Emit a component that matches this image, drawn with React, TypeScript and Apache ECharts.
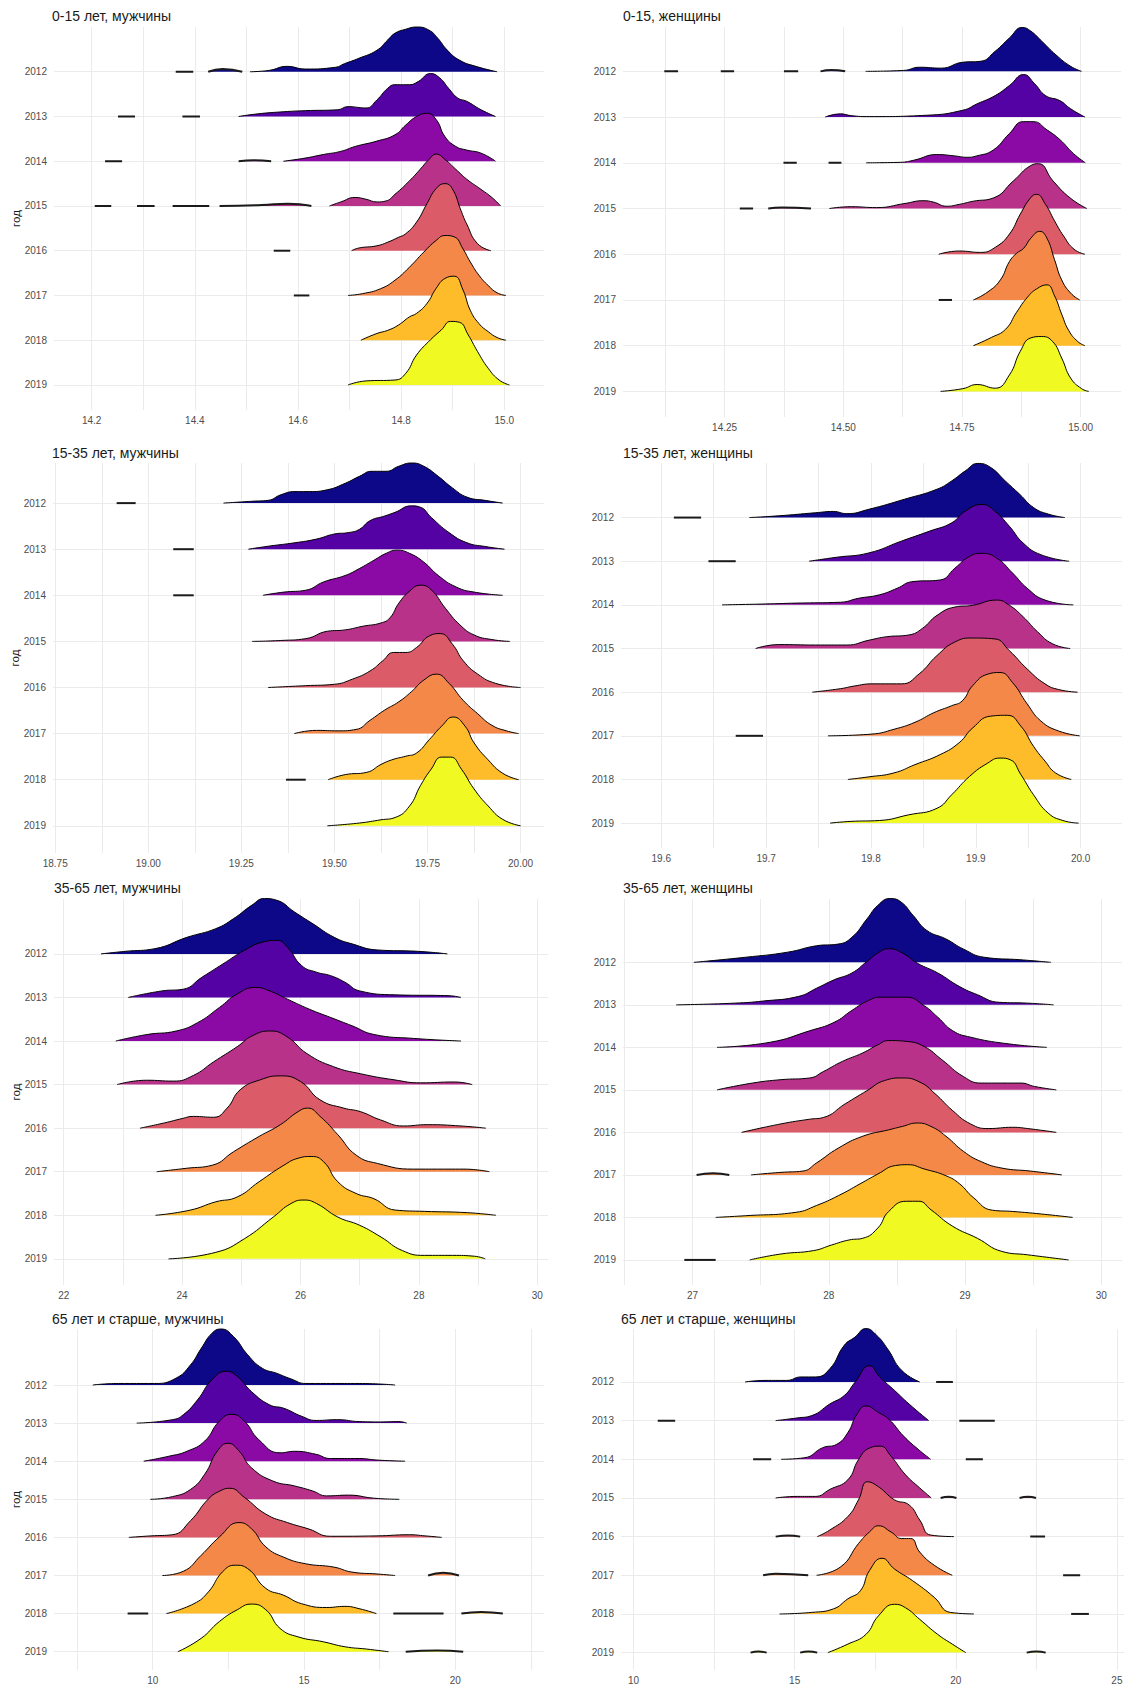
import React, { useEffect, useRef } from "react";
import * as echarts from "echarts";

type Pt = [number, number];
type Seg = Pt[];
type Ridge = Seg[];

const years = ["2012", "2013", "2014", "2015", "2016", "2017", "2018", "2019"];
const plasma = ["#0D0887", "#5402A3", "#8B0AA5", "#B93289", "#DB5C68", "#F48849", "#FEBC2A", "#F0F921"];
const titles = [
  "0-15 лет, мужчины",
  "0-15, женщины",
  "15-35 лет, мужчины",
  "15-35 лет, женщины",
  "35-65 лет, мужчины",
  "35-65 лет, женщины",
  "65 лет и старше, мужчины",
  "65 лет и старше, женщины",
];

// tick labels (major) and minor grid positions per panel
const majorTicks = [
  [14.2, 14.4, 14.6, 14.8, 15.0],
  [14.25, 14.5, 14.75, 15.0],
  [18.75, 19.0, 19.25, 19.5, 19.75, 20.0],
  [19.6, 19.7, 19.8, 19.9, 20.0],
  [22, 24, 26, 28, 30],
  [27, 28, 29, 30],
  [10, 15, 20],
  [10, 15, 20, 25],
];
const minorTicks = [
  [14.3, 14.5, 14.7, 14.9],
  [14.125, 14.375, 14.625, 14.875],
  [18.875, 19.125, 19.375, 19.625, 19.875],
  [19.65, 19.75, 19.85, 19.95],
  [23, 25, 27, 29],
  [26.5, 27.5, 28.5, 29.5],
  [7.5, 12.5, 17.5, 22.5],
  [12.5, 17.5, 22.5],
];
const tickDecimals = [1, 2, 2, 1, 0, 0, 0, 0];
const xRanges: [number, number][] = [
  [14.127, 15.077],
  [14.036, 15.085],
  [18.744, 20.063],
  [19.5616, 20.0394],
  [21.836, 30.18],
  [26.49, 30.152],
  [6.737, 22.93],
  [9.61, 25.22],
];

// ridge densities: [x, height in row units], segments separated
const m015: Ridge[] = [
  [[[14.363, 0], [14.397, 0]], [[14.426, 0], [14.454, 0.06], [14.492, 0]],
   [[14.507, 0], [14.544, 0.03], [14.579, 0.12], [14.614, 0.06], [14.673, 0.1], [14.69, 0.18], [14.718, 0.3], [14.753, 0.48], [14.774, 0.71], [14.788, 0.86], [14.809, 0.95], [14.83, 1.0], [14.854, 0.93], [14.871, 0.75], [14.889, 0.49], [14.913, 0.26], [14.948, 0.11], [14.986, 0]]],
  [[[14.251, 0], [14.284, 0]], [[14.376, 0], [14.41, 0]],
   [[14.485, 0], [14.523, 0.06], [14.565, 0.1], [14.614, 0.13], [14.677, 0.15], [14.697, 0.22], [14.732, 0.19], [14.753, 0.37], [14.774, 0.63], [14.788, 0.71], [14.816, 0.71], [14.833, 0.78], [14.857, 0.96], [14.875, 0.86], [14.892, 0.63], [14.91, 0.41], [14.927, 0.34], [14.955, 0.15], [14.983, 0]]],
  [[[14.226, 0], [14.259, 0]], [[14.485, 0], [14.515, 0.02], [14.548, 0]],
   [[14.572, 0], [14.614, 0.07], [14.649, 0.15], [14.683, 0.22], [14.711, 0.33], [14.753, 0.45], [14.788, 0.59], [14.809, 0.81], [14.83, 1.0], [14.85, 1.07], [14.868, 0.93], [14.885, 0.55], [14.906, 0.33], [14.927, 0.25], [14.955, 0.18], [14.983, 0]]],
  [[[14.206, 0], [14.238, 0]], [[14.288, 0], [14.322, 0]], [[14.357, 0], [14.428, 0]],
   [[14.448, 0], [14.53, 0.02], [14.58, 0.05], [14.61, 0.03], [14.626, 0]],
   [[14.661, 0], [14.683, 0.09], [14.711, 0.19], [14.732, 0.15], [14.753, 0.09], [14.77, 0.11], [14.788, 0.26], [14.816, 0.56], [14.837, 0.82], [14.854, 1.04], [14.868, 1.16], [14.885, 1.04], [14.906, 0.82], [14.927, 0.6], [14.955, 0.37], [14.976, 0.19], [14.993, 0]]],
  [[[14.553, 0], [14.585, 0]],
   [[14.704, 0], [14.718, 0.06], [14.753, 0.11], [14.774, 0.19], [14.795, 0.3], [14.809, 0.38], [14.83, 0.64], [14.85, 1.05], [14.868, 1.39], [14.885, 1.5], [14.899, 1.39], [14.916, 0.9], [14.927, 0.6], [14.948, 0.16], [14.974, 0]]],
  [[[14.592, 0], [14.622, 0]],
   [[14.697, 0], [14.725, 0.04], [14.76, 0.15], [14.788, 0.34], [14.816, 0.63], [14.844, 0.97], [14.868, 1.23], [14.885, 1.34], [14.903, 1.31], [14.92, 1.04], [14.934, 0.75], [14.951, 0.45], [14.969, 0.22], [14.986, 0.06], [15.003, 0]]],
  [[[14.722, 0], [14.753, 0.15], [14.774, 0.22], [14.795, 0.34], [14.816, 0.52], [14.83, 0.6], [14.85, 0.82], [14.868, 1.16], [14.885, 1.38], [14.903, 1.43], [14.92, 1.12], [14.934, 0.67], [14.951, 0.37], [14.969, 0.19], [14.986, 0.06], [15.003, 0]]],
  [[[14.697, 0], [14.732, 0.09], [14.788, 0.11], [14.809, 0.26], [14.83, 0.67], [14.857, 1.01], [14.878, 1.23], [14.896, 1.42], [14.913, 1.4], [14.93, 1.12], [14.948, 0.75], [14.969, 0.37], [14.99, 0.11], [15.01, 0]]],
];

const f015: Ridge[] = [
  [[[14.123, 0], [14.152, 0]], [[14.242, 0], [14.27, 0]], [[14.375, 0], [14.405, 0]], [[14.452, 0], [14.475, 0.03], [14.504, 0]],
   [[14.547, 0], [14.627, 0.02], [14.661, 0.09], [14.706, 0.07], [14.752, 0.2], [14.789, 0.22], [14.82, 0.44], [14.85, 0.73], [14.877, 0.96], [14.895, 0.88], [14.918, 0.66], [14.948, 0.36], [14.979, 0.11], [15.002, 0]]],
  [[[14.462, 0], [14.494, 0.07], [14.517, 0.03], [14.555, 0.01], [14.676, 0.04], [14.752, 0.15], [14.782, 0.29], [14.82, 0.47], [14.85, 0.69], [14.88, 0.93], [14.903, 0.73], [14.926, 0.47], [14.956, 0.36], [14.979, 0.18], [15.009, 0]]],
  [[[14.374, 0], [14.402, 0]], [[14.469, 0], [14.496, 0]],
   [[14.548, 0], [14.62, 0.01], [14.65, 0.06], [14.697, 0.18], [14.735, 0.15], [14.76, 0.12], [14.781, 0.15], [14.816, 0.28], [14.85, 0.64], [14.879, 0.9], [14.9, 0.9], [14.929, 0.72], [14.957, 0.5], [14.985, 0.2], [15.01, 0]]],
  [[[14.282, 0], [14.31, 0]], [[14.342, 0], [14.37, 0.02], [14.432, 0]],
   [[14.471, 0], [14.517, 0.04], [14.57, 0.02], [14.63, 0.11], [14.668, 0.17], [14.69, 0.14], [14.718, 0.05], [14.744, 0.09], [14.774, 0.16], [14.816, 0.23], [14.858, 0.6], [14.895, 0.94], [14.911, 0.98], [14.942, 0.6], [14.978, 0.23], [15.013, 0]]],
  [[[14.701, 0], [14.744, 0.07], [14.789, 0.04], [14.82, 0.15], [14.85, 0.44], [14.873, 0.88], [14.895, 1.24], [14.907, 1.31], [14.926, 1.09], [14.945, 0.73], [14.964, 0.4], [14.986, 0.11], [15.009, 0]]],
  [[[14.701, 0], [14.729, 0]],
   [[14.774, 0], [14.805, 0.18], [14.831, 0.44], [14.85, 0.84], [14.865, 1.02], [14.88, 1.13], [14.895, 1.35], [14.914, 1.5], [14.929, 1.35], [14.945, 0.88], [14.96, 0.44], [14.979, 0.15], [14.998, 0]]],
  [[[14.774, 0], [14.812, 0.18], [14.842, 0.36], [14.865, 0.73], [14.888, 1.06], [14.907, 1.24], [14.929, 1.33], [14.945, 1.09], [14.96, 0.69], [14.975, 0.33], [14.994, 0.09], [15.009, 0]]],
  [[[14.705, 0], [14.752, 0.06], [14.782, 0.15], [14.82, 0.07], [14.85, 0.36], [14.873, 0.88], [14.895, 1.17], [14.918, 1.2], [14.941, 1.09], [14.96, 0.73], [14.979, 0.29], [15.002, 0.06], [15.017, 0]]],
];

const m1535: Ridge[] = [
  [[[18.915, 0], [18.966, 0]],
   [[19.202, 0], [19.279, 0.04], [19.322, 0.06], [19.356, 0.18], [19.394, 0.25], [19.433, 0.25], [19.481, 0.29], [19.529, 0.43], [19.567, 0.58], [19.601, 0.69], [19.639, 0.69], [19.673, 0.8], [19.707, 0.87], [19.74, 0.8], [19.779, 0.58], [19.817, 0.33], [19.856, 0.13], [19.904, 0.06], [19.952, 0]]],
  [[[19.067, 0], [19.122, 0]],
   [[19.269, 0], [19.327, 0.07], [19.394, 0.14], [19.452, 0.22], [19.5, 0.33], [19.538, 0.36], [19.567, 0.43], [19.596, 0.62], [19.635, 0.72], [19.663, 0.8], [19.707, 0.94], [19.731, 0.91], [19.76, 0.69], [19.808, 0.36], [19.856, 0.14], [19.904, 0.06], [19.957, 0]]],
  [[[19.067, 0], [19.122, 0]],
   [[19.308, 0], [19.365, 0.07], [19.423, 0.11], [19.471, 0.29], [19.529, 0.43], [19.567, 0.58], [19.606, 0.76], [19.639, 0.91], [19.668, 0.98], [19.702, 0.91], [19.74, 0.72], [19.779, 0.43], [19.827, 0.18], [19.875, 0.07], [19.952, 0]]],
  [[[19.279, 0], [19.356, 0.02], [19.423, 0.06], [19.481, 0.22], [19.529, 0.25], [19.577, 0.33], [19.625, 0.4], [19.649, 0.51], [19.673, 0.83], [19.702, 1.09], [19.731, 1.22], [19.76, 1.12], [19.798, 0.72], [19.837, 0.36], [19.875, 0.14], [19.923, 0.04], [19.971, 0]]],
  [[[19.322, 0], [19.423, 0.04], [19.5, 0.07], [19.548, 0.18], [19.596, 0.36], [19.63, 0.58], [19.659, 0.76], [19.692, 0.76], [19.721, 0.87], [19.755, 1.12], [19.784, 1.17], [19.817, 0.94], [19.846, 0.58], [19.885, 0.29], [19.933, 0.09], [20.0, 0]]],
  [[[19.392, 0], [19.452, 0.07], [19.51, 0.06], [19.558, 0.09], [19.596, 0.29], [19.635, 0.51], [19.673, 0.69], [19.707, 0.91], [19.74, 1.16], [19.774, 1.29], [19.808, 1.09], [19.846, 0.72], [19.885, 0.43], [19.923, 0.18], [19.962, 0.06], [19.995, 0]]],
  [[[19.37, 0], [19.423, 0]],
   [[19.483, 0], [19.529, 0.11], [19.587, 0.16], [19.625, 0.33], [19.654, 0.43], [19.692, 0.51], [19.721, 0.58], [19.755, 0.87], [19.788, 1.16], [19.819, 1.36], [19.851, 1.16], [19.875, 0.8], [19.913, 0.43], [19.952, 0.14], [19.995, 0]]],
  [[[19.481, 0], [19.567, 0.06], [19.625, 0.13], [19.663, 0.18], [19.702, 0.43], [19.731, 0.87], [19.76, 1.23], [19.788, 1.49], [19.812, 1.49], [19.841, 1.23], [19.875, 0.8], [19.913, 0.43], [19.952, 0.14], [20.0, 0]]],
];

const f1535: Ridge[] = [
  [[[19.612, 0], [19.638, 0]],
   [[19.684, 0], [19.712, 0.04], [19.747, 0.11], [19.764, 0.14], [19.777, 0.09], [19.798, 0.19], [19.832, 0.42], [19.863, 0.65], [19.877, 0.84], [19.89, 1.07], [19.902, 1.24], [19.914, 1.15], [19.928, 0.84], [19.942, 0.53], [19.955, 0.23], [19.969, 0.08], [19.985, 0]]],
  [[[19.645, 0], [19.671, 0]],
   [[19.741, 0], [19.767, 0.09], [19.798, 0.19], [19.829, 0.46], [19.856, 0.69], [19.877, 0.88], [19.89, 1.15], [19.906, 1.3], [19.918, 1.15], [19.932, 0.8], [19.945, 0.42], [19.962, 0.15], [19.989, 0]]],
  [[[19.658, 0], [19.699, 0.02], [19.729, 0.04], [19.771, 0.06], [19.788, 0.15], [19.808, 0.23], [19.825, 0.38], [19.839, 0.53], [19.866, 0.57], [19.88, 0.84], [19.894, 1.11], [19.906, 1.18], [19.92, 1.07], [19.935, 0.73], [19.949, 0.38], [19.966, 0.11], [19.993, 0]]],
  [[[19.69, 0], [19.712, 0.09], [19.747, 0.08], [19.777, 0.08], [19.798, 0.19], [19.815, 0.27], [19.836, 0.31], [19.849, 0.46], [19.863, 0.76], [19.88, 0.95], [19.897, 0.99], [19.92, 1.11], [19.932, 0.99], [19.945, 0.73], [19.959, 0.38], [19.973, 0.11], [19.99, 0]]],
  [[[19.744, 0], [19.771, 0.08], [19.784, 0.14], [19.801, 0.19], [19.829, 0.19], [19.846, 0.42], [19.863, 0.84], [19.88, 1.15], [19.897, 1.24], [19.918, 1.22], [19.932, 0.95], [19.949, 0.53], [19.966, 0.19], [19.979, 0.06], [19.997, 0]]],
  [[[19.671, 0], [19.697, 0]],
   [[19.759, 0], [19.801, 0.04], [19.822, 0.15], [19.842, 0.31], [19.86, 0.53], [19.877, 0.69], [19.887, 0.8], [19.897, 1.15], [19.911, 1.41], [19.923, 1.45], [19.935, 1.22], [19.949, 0.73], [19.962, 0.34], [19.979, 0.11], [19.999, 0]]],
  [[[19.778, 0], [19.798, 0.06], [19.822, 0.15], [19.842, 0.34], [19.866, 0.57], [19.884, 0.84], [19.897, 1.18], [19.914, 1.45], [19.93, 1.47], [19.943, 1.22], [19.955, 0.76], [19.966, 0.42], [19.976, 0.15], [19.991, 0]]],
  [[[19.761, 0], [19.781, 0.04], [19.808, 0.06], [19.836, 0.19], [19.863, 0.34], [19.877, 0.65], [19.894, 1.07], [19.911, 1.37], [19.923, 1.49], [19.933, 1.45], [19.943, 1.11], [19.955, 0.65], [19.969, 0.23], [19.983, 0.06], [19.998, 0]]],
];

const m3565: Ridge[] = [
  [[[22.63, 0], [23.05, 0.06], [23.54, 0.12], [24.08, 0.38], [24.57, 0.58], [24.87, 0.81], [25.18, 1.12], [25.39, 1.27], [25.6, 1.23], [25.9, 0.96], [26.21, 0.69], [26.57, 0.38], [26.87, 0.23], [27.3, 0.09], [27.97, 0.06], [28.48, 0]]],
  [[[23.09, 0], [23.66, 0.15], [24.02, 0.19], [24.33, 0.46], [24.69, 0.77], [25.05, 1.08], [25.36, 1.27], [25.6, 1.31], [25.78, 1.15], [26.02, 0.73], [26.27, 0.58], [26.51, 0.5], [26.75, 0.35], [27.0, 0.15], [27.6, 0.06], [28.51, 0.04], [28.71, 0]]],
  [[[22.88, 0], [23.41, 0.15], [23.9, 0.23], [24.26, 0.42], [24.63, 0.77], [24.93, 1.08], [25.24, 1.23], [25.48, 1.15], [25.78, 0.96], [26.15, 0.73], [26.51, 0.54], [26.87, 0.35], [27.24, 0.15], [27.91, 0.06], [28.71, 0]]],
  [[[22.9, 0], [23.4, 0.1], [23.85, 0.08], [24.19, 0.21], [24.53, 0.52], [24.93, 0.87], [25.2, 1.13], [25.49, 1.23], [25.77, 1.1], [26.11, 0.71], [26.56, 0.41], [27.01, 0.25], [27.58, 0.11], [28.03, 0.04], [28.6, 0.06], [28.9, 0]]],
  [[[23.29, 0], [23.7, 0.12], [24.0, 0.22], [24.19, 0.27], [24.53, 0.25], [24.76, 0.46], [24.98, 0.88], [25.32, 1.11], [25.66, 1.2], [26.0, 1.07], [26.33, 0.65], [26.73, 0.46], [27.01, 0.38], [27.35, 0.19], [27.74, 0.05], [28.14, 0.08], [28.71, 0.05], [29.13, 0]]],
  [[[23.57, 0], [24.08, 0.08], [24.51, 0.15], [24.87, 0.46], [25.3, 0.81], [25.66, 1.08], [25.96, 1.38], [26.12, 1.46], [26.33, 1.27], [26.63, 0.85], [26.94, 0.38], [27.3, 0.19], [27.91, 0.06], [28.76, 0.06], [29.19, 0]]],
  [[[23.55, 0], [24.14, 0.12], [24.57, 0.31], [24.93, 0.42], [25.3, 0.77], [25.72, 1.15], [25.96, 1.31], [26.18, 1.35], [26.39, 1.23], [26.63, 0.77], [26.94, 0.5], [27.24, 0.38], [27.6, 0.12], [28.09, 0.09], [28.82, 0.06], [29.3, 0]]],
  [[[23.77, 0], [24.57, 0.15], [25.05, 0.46], [25.54, 0.96], [25.84, 1.27], [26.06, 1.35], [26.27, 1.27], [26.63, 0.96], [27.0, 0.77], [27.36, 0.5], [27.72, 0.19], [28.09, 0.08], [28.57, 0.08], [28.94, 0.06], [29.12, 0]]],
];

const f3565: Ridge[] = [
  [[[27.01, 0], [27.39, 0.12], [27.7, 0.24], [27.91, 0.39], [28.07, 0.43], [28.17, 0.59], [28.28, 1.02], [28.36, 1.34], [28.45, 1.5], [28.53, 1.42], [28.62, 1.1], [28.72, 0.75], [28.86, 0.55], [28.99, 0.31], [29.14, 0.12], [29.41, 0.06], [29.63, 0]]],
  [[[26.88, 0], [27.31, 0.04], [27.52, 0.09], [27.78, 0.2], [27.91, 0.39], [28.04, 0.59], [28.17, 0.75], [28.28, 1.02], [28.38, 1.26], [28.44, 1.32], [28.54, 1.22], [28.65, 0.98], [28.8, 0.75], [28.96, 0.43], [29.09, 0.24], [29.25, 0.06], [29.46, 0.04], [29.65, 0]]],
  [[[27.18, 0], [27.57, 0.12], [27.86, 0.39], [28.04, 0.59], [28.17, 0.87], [28.29, 1.1], [28.38, 1.18], [28.57, 1.18], [28.7, 0.98], [28.8, 0.71], [28.91, 0.39], [29.04, 0.24], [29.3, 0.09], [29.6, 0]]],
  [[[27.18, 0], [27.44, 0.16], [27.65, 0.24], [27.86, 0.28], [27.96, 0.43], [28.1, 0.67], [28.25, 0.87], [28.36, 1.06], [28.44, 1.16], [28.57, 1.14], [28.7, 1.02], [28.83, 0.71], [28.99, 0.31], [29.12, 0.16], [29.27, 0.16], [29.41, 0.16], [29.51, 0.08], [29.67, 0]]],
  [[[27.36, 0], [27.65, 0.2], [27.86, 0.31], [27.96, 0.35], [28.12, 0.67], [28.28, 0.98], [28.41, 1.22], [28.54, 1.28], [28.67, 1.18], [28.78, 0.91], [28.91, 0.51], [29.04, 0.2], [29.17, 0.09], [29.35, 0.12], [29.46, 0.09], [29.67, 0]]],
  [[[27.03, 0], [27.15, 0.04], [27.27, 0]],
   [[27.43, 0], [27.65, 0.06], [27.81, 0.09], [27.91, 0.28], [28.07, 0.63], [28.25, 0.91], [28.44, 1.06], [28.54, 1.14], [28.65, 1.22], [28.75, 1.14], [28.86, 0.91], [28.99, 0.55], [29.12, 0.31], [29.27, 0.16], [29.48, 0.09], [29.71, 0]]],
  [[[27.17, 0], [27.39, 0.04], [27.76, 0.12], [27.91, 0.28], [28.07, 0.51], [28.23, 0.79], [28.36, 1.02], [28.49, 1.22], [28.58, 1.24], [28.7, 1.14], [28.86, 0.98], [28.96, 0.79], [29.06, 0.47], [29.2, 0.17], [29.35, 0.14], [29.56, 0.08], [29.79, 0]]],
  [[[26.94, 0], [27.17, 0]],
   [[27.42, 0], [27.65, 0.14], [27.89, 0.22], [28.02, 0.35], [28.15, 0.47], [28.25, 0.51], [28.36, 0.75], [28.44, 1.14], [28.57, 1.38], [28.66, 1.38], [28.75, 1.18], [28.91, 0.79], [29.09, 0.51], [29.27, 0.2], [29.46, 0.12], [29.76, 0]]],
];

const m65: Ridge[] = [
  [[[8.02, 0], [8.87, 0.04], [10.06, 0.04], [10.77, 0.18], [11.25, 0.53], [11.6, 0.96], [11.96, 1.36], [12.25, 1.47], [12.67, 1.27], [13.14, 0.79], [13.62, 0.44], [14.09, 0.31], [14.57, 0.16], [15.06, 0.04], [15.87, 0.04], [16.82, 0.04], [18.01, 0]]],
  [[[9.47, 0], [10.65, 0.09], [11.01, 0.22], [11.48, 0.61], [11.96, 1.14], [12.43, 1.36], [12.79, 1.23], [13.26, 0.83], [13.86, 0.48], [14.33, 0.39], [14.92, 0.18], [15.4, 0.07], [16.11, 0.09], [16.82, 0.04], [17.53, 0.03], [18.13, 0.04], [18.39, 0]]],
  [[[9.7, 0], [10.53, 0.13], [11.13, 0.26], [11.72, 0.53], [12.2, 1.05], [12.61, 1.23], [13.03, 1.05], [13.5, 0.57], [14.21, 0.22], [14.69, 0.26], [15.4, 0.18], [15.87, 0.07], [16.82, 0.07], [17.41, 0.03], [18.34, 0]]],
  [[[9.92, 0], [10.65, 0.07], [11.25, 0.26], [11.72, 0.66], [12.14, 1.27], [12.49, 1.47], [12.85, 1.27], [13.26, 0.83], [13.97, 0.48], [14.69, 0.35], [15.28, 0.22], [15.75, 0.09], [16.47, 0.11], [17.3, 0.03], [18.15, 0]]],
  [[[9.21, 0], [9.94, 0.04], [10.65, 0.07], [11.25, 0.44], [11.84, 1.01], [12.25, 1.23], [12.55, 1.29], [13.03, 1.05], [13.74, 0.61], [14.45, 0.39], [15.16, 0.22], [15.87, 0.03], [17.41, 0.04], [18.48, 0.07], [19.0, 0.04], [19.55, 0]]],
  [[[10.32, 0], [11.01, 0.11], [11.6, 0.53], [12.2, 1.01], [12.85, 1.39], [13.26, 1.23], [13.74, 0.75], [14.33, 0.48], [15.04, 0.31], [15.99, 0.22], [16.58, 0.09], [17.41, 0.04], [18.01, 0]],
   [[19.1, 0], [19.6, 0.07], [20.12, 0]]],
  [[[9.17, 0], [9.85, 0]],
   [[10.45, 0], [11.36, 0.26], [11.84, 0.57], [12.31, 1.1], [12.73, 1.27], [13.14, 1.18], [13.74, 0.66], [14.33, 0.48], [14.92, 0.26], [15.75, 0.16], [16.35, 0.19], [16.82, 0.13], [17.39, 0]],
   [[17.95, 0], [19.61, 0]], [[20.2, 0], [20.85, 0.04], [21.57, 0]]],
  [[[10.83, 0], [11.6, 0.35], [12.2, 0.79], [12.79, 1.1], [13.26, 1.25], [13.74, 1.1], [14.21, 0.61], [14.8, 0.39], [15.64, 0.26], [16.35, 0.13], [17.06, 0.07], [17.79, 0]],
   [[18.36, 0], [19.4, 0.03], [20.26, 0]]],
];

const f65: Ridge[] = [
  [[[13.46, 0], [14.08, 0.04], [14.75, 0.04], [15.2, 0.13], [15.64, 0.13], [16.09, 0.34], [16.54, 0.95], [16.87, 1.16], [17.21, 1.38], [17.54, 1.21], [17.88, 0.86], [18.32, 0.3], [18.88, 0]],
   [[19.39, 0], [19.91, 0]]],
  [[[10.75, 0], [11.29, 0]],
   [[14.41, 0], [15.08, 0.07], [15.53, 0.13], [16.09, 0.43], [16.54, 0.65], [16.87, 0.99], [17.32, 1.42], [17.65, 1.12], [18.1, 0.78], [18.55, 0.43], [19.16, 0]],
   [[20.11, 0], [21.21, 0]]],
  [[[13.71, 0], [14.27, 0]],
   [[14.58, 0], [15.31, 0.04], [15.87, 0.3], [16.31, 0.39], [16.65, 0.69], [16.93, 1.16], [17.21, 1.38], [17.6, 1.21], [17.93, 1.03], [18.38, 0.6], [18.83, 0.26], [19.22, 0]],
   [[20.31, 0], [20.84, 0]]],
  [[[14.41, 0], [15.08, 0.04], [15.64, 0.04], [16.09, 0.22], [16.65, 0.47], [16.98, 0.99], [17.32, 1.29], [17.65, 1.34], [17.99, 1.08], [18.44, 0.6], [18.88, 0.26], [19.24, 0]],
   [[19.53, 0], [19.78, 0.03], [20.02, 0]], [[21.98, 0], [22.24, 0.03], [22.49, 0]]],
  [[[14.41, 0], [14.8, 0.03], [15.17, 0]],
   [[15.7, 0], [16.09, 0.17], [16.65, 0.52], [16.98, 0.95], [17.26, 1.42], [17.6, 1.29], [18.1, 0.95], [18.55, 0.82], [18.88, 0.43], [19.22, 0.04], [19.94, 0]],
   [[22.31, 0], [22.77, 0]]],
  [[[14.02, 0], [14.4, 0.04], [15.42, 0]],
   [[15.68, 0], [16.43, 0.22], [16.98, 0.82], [17.32, 1.12], [17.6, 1.28], [17.99, 1.12], [18.32, 0.95], [18.6, 0.95], [18.88, 0.6], [19.33, 0.26], [19.89, 0]],
   [[23.33, 0], [23.86, 0]]],
  [[[14.53, 0], [15.53, 0.04], [16.2, 0.13], [16.65, 0.39], [17.04, 0.6], [17.32, 1.12], [17.71, 1.44], [18.1, 1.16], [18.66, 0.86], [19.33, 0.43], [19.83, 0.04], [20.56, 0]],
   [[23.58, 0], [24.13, 0]]],
  [[[13.63, 0], [13.88, 0.03], [14.13, 0]], [[15.17, 0], [15.43, 0.03], [15.7, 0]],
   [[16.03, 0], [16.65, 0.22], [17.21, 0.47], [17.6, 0.95], [18.1, 1.25], [18.44, 1.16], [18.88, 0.86], [19.44, 0.47], [19.89, 0.22], [20.31, 0]],
   [[22.2, 0], [22.5, 0.03], [22.79, 0]]],
];

const panelData = [m015, f015, m1535, f1535, m3565, f3565, m65, f65];

// layout (pixels) and y-extent per panel
const layout = [
  { left: 54, top: 27, width: 490, height: 383, yMin: -0.56, yMax: 8.0, tl: 52, tt: 9 },
  { left: 623, top: 27, width: 498, height: 390, yMin: -0.56, yMax: 7.97, tl: 623, tt: 9 },
  { left: 53, top: 463, width: 491, height: 390, yMin: -0.59, yMax: 7.87, tl: 52, tt: 446 },
  { left: 621, top: 463, width: 501, height: 385, yMin: -0.57, yMax: 8.25, tl: 623, tt: 446 },
  { left: 54, top: 899, width: 494, height: 386, yMin: -0.6, yMax: 8.26, tl: 54, tt: 881 },
  { left: 623, top: 899, width: 499, height: 386, yMin: -0.59, yMax: 8.49, tl: 623, tt: 881 },
  { left: 54, top: 1329, width: 490, height: 341, yMin: -0.48, yMax: 8.47, tl: 52, tt: 1312 },
  { left: 621, top: 1329, width: 503, height: 341, yMin: -0.45, yMax: 8.37, tl: 621, tt: 1312 },
];

const FONT = "'Liberation Sans', Arial, sans-serif";
const rowValues = [0, 1, 2, 3, 4, 5, 6, 7];

function segsToData(segs: Seg[], base: number) {
  const out: any[] = [];
  segs.forEach((seg, i) => {
    if (i > 0) out.push([seg[0][0], "-"]);
    seg.forEach(([x, h]) => out.push([x, base + h]));
  });
  return out;
}

function buildOption() {
  const grid: any[] = [];
  const xAxis: any[] = [];
  const yAxis: any[] = [];
  const series: any[] = [];
  const title: any[] = [];
  layout.forEach((L, p) => {
    grid.push({ left: L.left, top: L.top, width: L.width, height: L.height, containLabel: false, outerBoundsMode: "none" });
    const allTicks = [...majorTicks[p], ...minorTicks[p]].sort((a, b) => a - b);
    const dec = tickDecimals[p];
    xAxis.push({
      type: "value",
      gridIndex: p,
      min: xRanges[p][0],
      max: xRanges[p][1],
      axisLine: { show: false },
      axisTick: { show: false, customValues: allTicks },
      axisLabel: {
        customValues: majorTicks[p],
        formatter: (v: number) => Number(v).toFixed(dec),
        color: "#4d4d4d",
        fontSize: 10,
        fontFamily: FONT,
        margin: 5,
      },
      splitLine: { show: true, lineStyle: { color: "#ebebeb", width: 1 } },
      minorSplitLine: { show: false },
    });
    yAxis.push({
      type: "value",
      gridIndex: p,
      min: L.yMin,
      max: L.yMax,
      axisLine: { show: false },
      axisTick: { show: false, customValues: rowValues },
      axisLabel: {
        customValues: rowValues,
        formatter: (v: number) => years[7 - Math.round(v)],
        color: "#4d4d4d",
        fontSize: 10,
        fontFamily: FONT,
        margin: 7,
      },
      splitLine: { show: true, lineStyle: { color: "#ebebeb", width: 1 } },
      name: p % 2 === 0 ? "год" : "",
      nameLocation: "middle",
      nameRotate: 90,
      nameGap: 32,
      nameMoveOverlap: false,
      nameTextStyle: { color: "#1a1a1a", fontSize: 11.5, fontFamily: FONT },
    });
    title.push({
      text: titles[p],
      left: L.tl,
      top: L.tt,
      padding: 0,
      textStyle: { fontSize: 14, fontWeight: "normal", color: "#1a1a1a", fontFamily: FONT },
    });
    panelData[p].forEach((ridge, k) => {
      const base = 7 - k;
      const mainSegs = ridge.filter((s) => Math.max(...s.map((q) => q[1])) >= 0.1);
      const dashSegs = ridge.filter((s) => Math.max(...s.map((q) => q[1])) < 0.1);
      const common = {
        type: "line",
        xAxisIndex: p,
        yAxisIndex: p,
        smooth: 0.5,
        showSymbol: false,
        symbol: "none",
        connectNulls: false,
        clip: false,
        silent: true,
        emphasis: { disabled: true },
        areaStyle: { color: plasma[k], opacity: 1, origin: base },
      };
      series.push({
        ...common,
        name: titles[p] + " " + years[k],
        data: segsToData(mainSegs, base),
        lineStyle: { color: "#000000", width: 1 },
      });
      if (dashSegs.length) {
        series.push({
          ...common,
          name: titles[p] + " " + years[k] + " tail",
          data: segsToData(dashSegs, base),
          lineStyle: { color: "#1a1a1a", width: 2 },
        });
      }
    });
  });
  return {
    animation: false,
    backgroundColor: "#ffffff",
    title,
    grid,
    xAxis,
    yAxis,
    series,
  };
}

export default function App() {
  const ref = useRef<HTMLDivElement>(null);
  useEffect(() => {
    if (!ref.current) return;
    const chart = echarts.init(ref.current, undefined, { renderer: "svg" });
    chart.setOption(buildOption() as any);
    return () => chart.dispose();
  }, []);
  return (
    <div
      ref={ref}
      style={{ position: "absolute", left: 0, top: 0, width: 1128, height: 1690, background: "#fff" }}
    />
  );
}
